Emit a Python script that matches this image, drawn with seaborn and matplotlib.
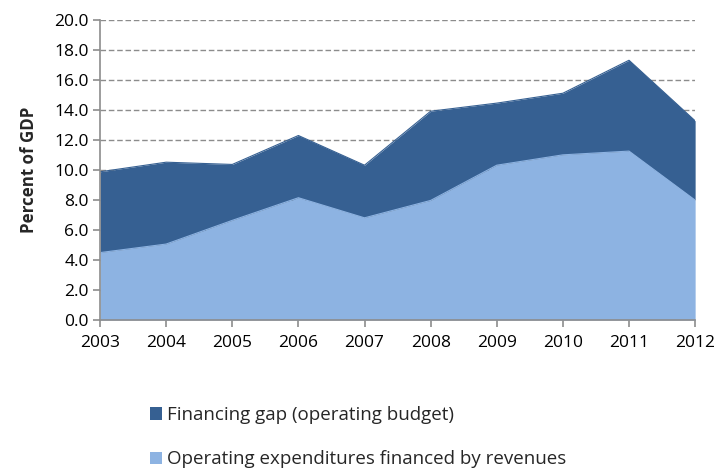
import numpy as np
import pandas as pd
import matplotlib
matplotlib.use("Agg")
import matplotlib.pyplot as plt
from matplotlib.patches import Patch
import seaborn as sns

years = [2003, 2004, 2005, 2006, 2007, 2008, 2009, 2010, 2011, 2012]
revenue_financed = [4.5, 5.07, 6.65, 8.16, 6.82, 7.98, 10.33, 11.02, 11.27, 8.0]
financing_gap = [5.39, 5.46, 3.73, 4.15, 3.51, 5.95, 4.14, 4.11, 6.06, 5.29]
yticks = [0, 2, 4, 6, 8, 10, 12, 14, 16, 18, 20]

label_gap = "Financing gap (operating budget)"
label_rev = "Operating expenditures financed by revenues"
c_gap = "#366092"
c_rev = "#8db3e2"

sns.set_theme(style="white")
plt.rcParams['font.family'] = ['Open Sans', 'DejaVu Sans']

df = pd.DataFrame({"year": years, "rev": revenue_financed,
                   "total": np.array(revenue_financed) + np.array(financing_gap)})

fig = plt.figure(figsize=(7.17, 4.70), dpi=100)
ax = fig.add_axes([0.1395, 0.319, 0.830, 0.638])

ax.fill_between(df["year"], 0, df["rev"], color=c_rev, linewidth=0, zorder=2)
ax.fill_between(df["year"], df["rev"], df["total"], color=c_gap, linewidth=0, zorder=2)
sns.lineplot(data=df, x="year", y="total", color=c_gap, linewidth=0.8, ax=ax, zorder=3)
sns.lineplot(data=df, x="year", y="rev", color=c_rev, linewidth=0.8, ax=ax, zorder=3)

ax.set_xlim(years[0], years[-1])
ax.set_ylim(0, 20)
ax.set_yticks(yticks)
ax.set_yticklabels([f"{v:.1f}" for v in yticks], fontsize=12.5)
ax.set_xticks(years)
ax.set_xticklabels([str(y) for y in years], fontsize=12.5)
ax.yaxis.grid(True, linestyle=(0, (4, 2)), color="#8c8c8c", linewidth=1.0, zorder=1)
ax.xaxis.grid(False)
ax.set_axisbelow(True)
for s in ["top", "right"]:
    ax.spines[s].set_visible(False)
for s in ["left", "bottom"]:
    ax.spines[s].set_color("#8c8c8c")
    ax.spines[s].set_linewidth(1.2)
    ax.spines[s].set_zorder(4)
ax.tick_params(axis="both", which="both", direction="out", length=5, width=1.2,
               color="#8c8c8c", left=True, bottom=True, labelcolor="black", pad=3)
ax.tick_params(axis="x", pad=6)
ax.set_xlabel("")
ax.set_ylabel("Percent of GDP", fontsize=12.2, fontweight="bold", labelpad=12)

handles = [Patch(facecolor=c_gap, edgecolor="none"), Patch(facecolor=c_rev, edgecolor="none")]
fig.legend(handles, [label_gap, label_rev], loc="upper left",
           bbox_to_anchor=(0.209, 0.136), bbox_transform=fig.transFigure,
           frameon=False, fontsize=13.5, handlelength=0.64, handleheight=0.64,
           handletextpad=0.27, labelspacing=1.4, borderaxespad=0, borderpad=0)

fig.savefig("out.png", dpi=100)
